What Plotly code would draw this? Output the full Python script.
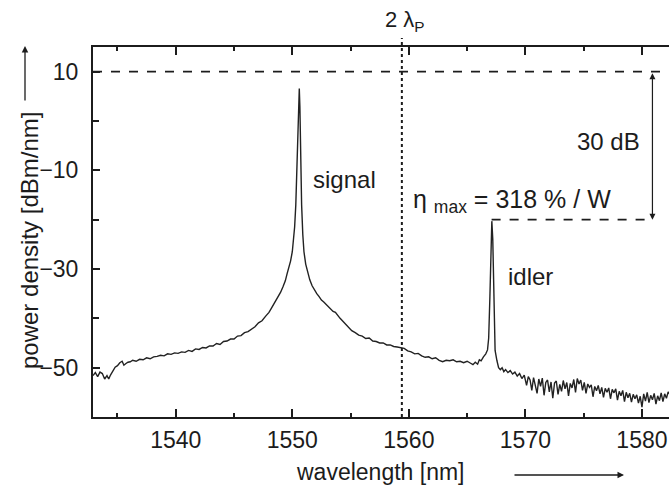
import plotly.graph_objects as go

# spectrum
wavelength = [
    1532.9, 1533.1, 1533.3, 1533.5, 1533.7, 1533.9, 1534.1, 1534.25, 1534.4, 1534.6,
    1534.8, 1535.0, 1535.2, 1535.4, 1535.55, 1535.7, 1535.9, 1536.1, 1536.3, 1536.6,
    1536.9, 1537.2, 1537.5, 1537.8, 1538.1, 1538.4, 1538.7, 1539.0, 1539.3, 1539.6,
    1539.9, 1540.2, 1540.5, 1540.8, 1541.1, 1541.4, 1541.7, 1542.0, 1542.3, 1542.6,
    1542.9, 1543.2, 1543.5, 1543.8, 1544.1, 1544.4, 1544.7, 1545.0, 1545.3, 1545.6,
    1545.9, 1546.2, 1546.5, 1546.8, 1547.1, 1547.4, 1547.7, 1548.0, 1548.2, 1548.4,
    1548.6, 1548.8, 1549.0, 1549.2, 1549.4, 1549.55, 1549.7, 1549.85, 1550.0, 1550.1,
    1550.2, 1550.3, 1550.4, 1550.5, 1550.6, 1550.65, 1550.7, 1550.8, 1550.9, 1551.0,
    1551.15, 1551.3, 1551.5, 1551.7, 1551.9, 1552.1, 1552.3, 1552.5, 1552.7, 1552.9,
    1553.1, 1553.3, 1553.5, 1553.7, 1553.9, 1554.1, 1554.3, 1554.5, 1554.7, 1554.9,
    1555.1, 1555.4, 1555.7, 1556.0, 1556.3, 1556.6, 1556.9, 1557.2, 1557.5, 1557.8,
    1558.1, 1558.4, 1558.7, 1559.0, 1559.3, 1559.6, 1559.9, 1560.2, 1560.5, 1560.8,
    1561.1, 1561.4, 1561.7, 1562.0, 1562.3, 1562.6, 1562.9, 1563.2, 1563.5, 1563.8,
    1564.1, 1564.4, 1564.7, 1565.0, 1565.3, 1565.5, 1565.7, 1565.9, 1566.05, 1566.2,
    1566.4, 1566.6, 1566.75, 1566.85, 1566.95, 1567.05, 1567.12, 1567.2, 1567.3, 1567.4,
    1567.55, 1567.7, 1567.85, 1568.0, 1568.15, 1568.3, 1568.5, 1568.7, 1568.9, 1569.1,
    1569.3, 1569.5, 1569.7, 1569.9, 1570.1, 1570.25, 1570.4, 1570.55, 1570.7, 1570.85,
    1571.0, 1571.15, 1571.3, 1571.45, 1571.6, 1571.75, 1571.9, 1572.05, 1572.2, 1572.35,
    1572.5, 1572.65, 1572.8, 1572.95, 1573.1, 1573.25, 1573.4, 1573.55, 1573.7, 1573.85,
    1574.0, 1574.15, 1574.3, 1574.45, 1574.6, 1574.75, 1574.9, 1575.05, 1575.2, 1575.35,
    1575.5, 1575.65, 1575.8, 1575.95, 1576.1, 1576.25, 1576.4, 1576.55, 1576.7, 1576.85,
    1577.0, 1577.15, 1577.3, 1577.45, 1577.6, 1577.75, 1577.9, 1578.05, 1578.2, 1578.35,
    1578.5, 1578.65, 1578.8, 1578.95, 1579.1, 1579.25, 1579.4, 1579.55, 1579.7, 1579.85,
    1580.0, 1580.15, 1580.3, 1580.45, 1580.6, 1580.75, 1580.9, 1581.05, 1581.2, 1581.35,
    1581.5, 1581.65, 1581.8, 1581.95, 1582.1, 1582.25, 1582.4,
]
power = [
    -51.6, -51.0, -51.8, -50.9, -51.2, -52.3, -51.6, -52.3, -51.5, -50.6,
    -49.9, -49.6, -49.0, -48.7, -49.5, -49.2, -48.9, -48.8, -48.5, -48.7,
    -48.3, -48.4, -48.0, -48.2, -47.8, -47.7, -47.5, -47.6, -47.2, -47.3,
    -47.0, -47.1, -46.8, -46.9, -46.5, -46.7, -46.2, -46.3, -45.9, -46.0,
    -45.6, -45.6, -45.1, -45.3, -44.7, -44.6, -44.2, -44.2, -43.6, -43.5,
    -42.9, -42.7, -42.1, -41.7, -40.9, -40.5, -39.6, -38.8, -38.0, -37.2,
    -36.4, -35.6, -34.7, -33.6, -32.4, -31.0, -29.8, -28.4, -26.5, -24.5,
    -21.5, -17.0, -10.0, -1.0, 6.6, 3.0, -8.0, -17.0, -23.0, -26.5,
    -29.0, -30.6, -32.2, -33.4, -34.3, -35.0, -35.6, -36.3, -36.7, -37.2,
    -37.6, -38.0, -38.6, -38.8, -39.5, -40.0, -40.5, -41.0, -41.7, -42.1,
    -42.5, -42.9, -43.4, -43.6, -44.1, -44.0, -44.6, -44.7, -45.0, -45.0,
    -45.4, -45.4, -45.7, -45.8, -45.9, -46.1, -46.6, -46.8, -47.2, -47.1,
    -47.6, -47.9, -47.8, -48.2, -48.0, -48.5, -48.8, -48.5, -48.6, -48.4,
    -48.8, -48.7, -49.0, -48.7, -49.1, -49.4, -48.9, -49.3, -48.4, -48.6,
    -47.8, -47.2, -46.4, -44.0, -36.0, -24.0, -20.3, -24.0, -38.0, -46.5,
    -48.5, -50.0, -50.4, -50.0, -50.8, -50.4, -51.0, -50.6, -51.3, -50.9,
    -51.7, -51.2, -52.2, -51.5, -53.6, -51.8, -52.5, -54.6, -52.0, -53.4,
    -55.2, -52.3, -53.8, -52.1, -55.6, -53.0, -52.5, -54.9, -52.9, -56.2,
    -53.1, -52.7, -55.4, -53.4, -54.8, -52.6, -54.3, -53.0, -55.7, -53.2,
    -54.1, -52.4, -55.0, -52.2, -53.3, -52.5, -54.6, -53.0, -55.2, -53.3,
    -54.0, -53.5, -55.9, -53.8, -54.7, -53.6, -55.3, -54.0, -56.0, -54.2,
    -55.0, -54.1, -56.3, -54.4, -55.1, -54.3, -56.6, -54.8, -55.7, -54.6,
    -56.9, -55.0, -56.1, -55.2, -57.0, -55.4, -56.3, -55.5, -57.2, -55.8,
    -58.0, -55.3, -56.8, -55.0, -57.1, -55.6, -56.5, -55.2, -57.4, -55.7,
    -56.7, -55.1, -56.9, -55.3, -56.2, -54.9, -55.5,
]

x_ticks = [1540, 1550, 1560, 1570, 1580]
x_minor = [1535, 1545, 1555, 1565, 1575]
y_ticks = [10, -10, -30, -50]
y_minor = [0, -20, -40]

two_lambda_p = 1559.4
ref_level = 10
idler_level = -20
idler_peak = 1567.1
arrow_x = 1580.9

FONT = 'Liberation Sans, Arial, sans-serif'
INK = '#1c1c1c'

W, H = 669, 488
ML, MR, MT, MB = 93, 0, 47, 71
pw, ph = W - ML - MR, H - MT - MB


def px(x, y):
    # window pixel position -> paper coordinates
    return (x - ML) / pw, 1 - (y - MT) / ph


fig = go.Figure()
fig.add_trace(go.Scatter(x=wavelength, y=power, mode='lines',
                         line=dict(color='#222222', width=1.4),
                         showlegend=False))

# reference lines
fig.add_shape(type='line', xref='x', yref='paper', x0=two_lambda_p, x1=two_lambda_p,
              y0=0, y1=1.024, line=dict(color=INK, width=2, dash='dot'))
fig.add_shape(type='line', xref='paper', yref='y', x0=0, x1=1, y0=ref_level, y1=ref_level,
              line=dict(color=INK, width=1.8, dash='dash'))
fig.add_shape(type='line', xref='x', yref='y', x0=idler_peak, x1=arrow_x + 0.1,
              y0=idler_level, y1=idler_level, line=dict(color=INK, width=1.8, dash='dash'))

txt = dict(showarrow=False, yanchor='middle', font=dict(family=FONT, color=INK, size=24))
fig.add_annotation(x=arrow_x, y=idler_level, ax=arrow_x, ay=ref_level,
                   axref='x', ayref='y', text='', showarrow=True, arrowside='end+start',
                   arrowhead=2, startarrowhead=2, arrowsize=1, arrowwidth=1.2,
                   arrowcolor=INK)
fig.add_annotation(x=1580.0, y=-4.2, text='30 dB', xanchor='right', **txt)
fig.add_annotation(x=1551.6, y=-11.8, text='signal', xanchor='left', **txt)
fig.add_annotation(x=1568.3, y=-31.5, text='idler', xanchor='left', **txt)
fig.add_annotation(x=1560.2, y=-16.2, text='η <sub>max</sub> = 318 % / W',
                   xanchor='left', showarrow=False, yanchor='middle',
                   font=dict(family=FONT, color=INK, size=25))
fig.add_annotation(x=1559.7, y=1.07, yref='paper', text='2 λ<sub>P</sub>',
                   xanchor='center', yanchor='middle', showarrow=False,
                   font=dict(family=FONT, color=INK, size=22))

# axis titles drawn as text, each with its arrow
x0, y0 = px(380, 472)
fig.add_annotation(x=x0, y=y0, xref='paper', yref='paper', xanchor='center',
                   text='wavelength [nm]', showarrow=False, yanchor='middle',
                   font=dict(family=FONT, color=INK, size=23))
x0, y0 = px(29, 241)
fig.add_annotation(x=x0, y=y0, xref='paper', yref='paper', xanchor='center',
                   textangle=-90, text='power density [dBm/nm]', **txt)
x0, y0 = px(624, 475)
fig.add_annotation(x=x0, y=y0, xref='paper', yref='paper', ax=-111, ay=0, text='',
                   showarrow=True, arrowhead=2, arrowsize=1, arrowwidth=1.3,
                   arrowcolor=INK)
x0, y0 = px(25, 46)
fig.add_annotation(x=x0, y=y0, xref='paper', yref='paper', ax=0, ay=56, text='',
                   showarrow=True, arrowhead=2, arrowsize=1, arrowwidth=1.3,
                   arrowcolor=INK)

fig.update_layout(
    template='none',
    width=W, height=H,
    margin=dict(l=ML, r=MR, t=MT, b=MB),
    plot_bgcolor='white', paper_bgcolor='white',
    font=dict(family=FONT, color=INK, size=23),
    xaxis=dict(range=[1532.9, 1532.9 + pw / 11.655], tickvals=x_ticks,
               ticks='inside', ticklen=8, tickwidth=1.5, tickcolor=INK,
               showline=True, linecolor=INK, linewidth=2, mirror='ticks',
               showgrid=False, zeroline=False, automargin=False, ticklabelstandoff=1,
               minor=dict(tickvals=x_minor, ticks='inside',
                          ticklen=4, tickwidth=1.5, tickcolor=INK, showgrid=False)),
    yaxis=dict(range=[-60, 15], tickvals=y_ticks,
               ticks='inside', ticklen=7, tickwidth=1.5, tickcolor=INK,
               showline=True, linecolor=INK, linewidth=2, mirror=False,
               showgrid=False, zeroline=False, automargin=False, ticklabelstandoff=8,
               minor=dict(tickvals=y_minor, ticks='inside',
                          ticklen=6, tickwidth=1.5, tickcolor=INK, showgrid=False)),
)

# drop the page's default 8 px body margin so the figure fills the window
fig.write_html('out.html', config={'displayModeBar': False},
               post_script="document.body.style.margin='0';")
